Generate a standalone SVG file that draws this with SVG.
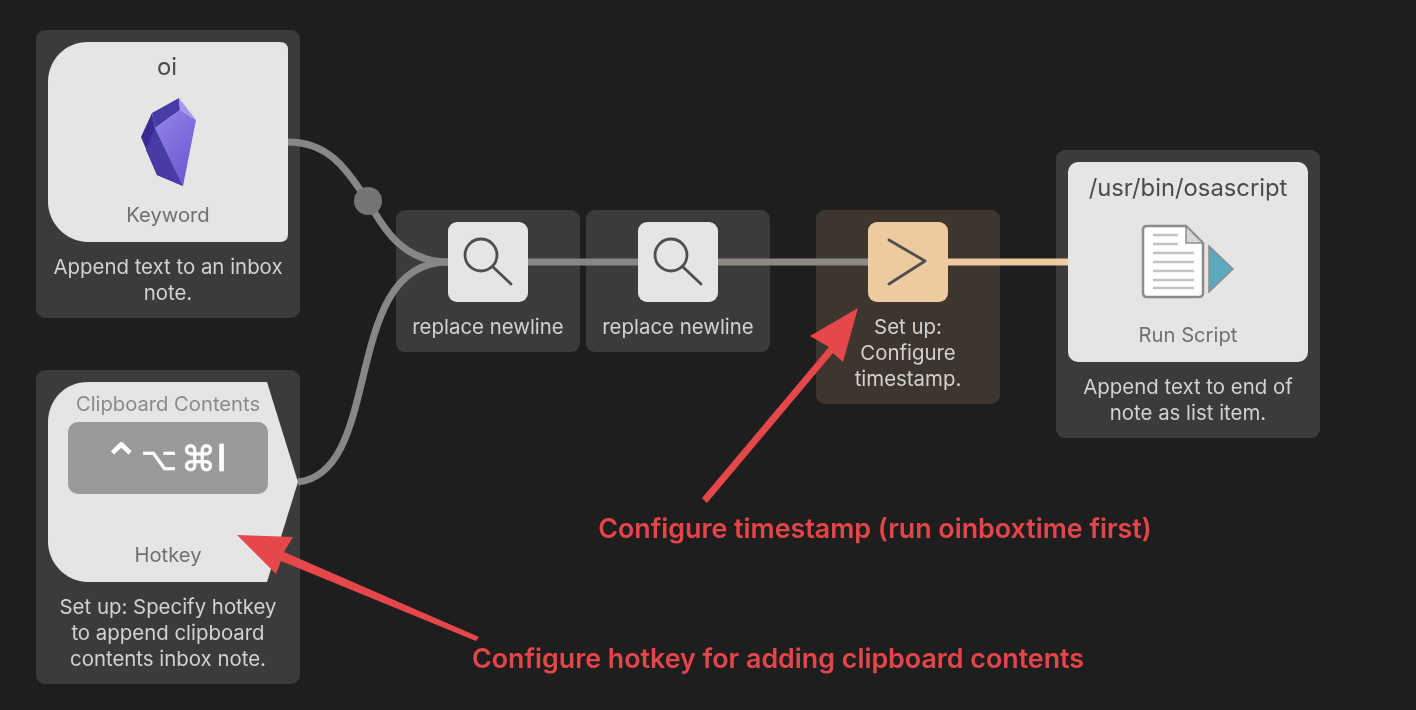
<svg xmlns="http://www.w3.org/2000/svg" width="1416" height="710" viewBox="0 0 1416 710">
<defs>
<linearGradient id="gem" x1="0.2" y1="0" x2="0.8" y2="1"><stop offset="0" stop-color="#8f80e6"/><stop offset="1" stop-color="#6a56d2"/></linearGradient>
<filter id="soft" x="0" y="0" width="1" height="1"><feGaussianBlur stdDeviation="0.6"/></filter>
</defs>
<style>
text{font-family:"Inter","Liberation Sans",Arial,sans-serif;text-anchor:middle}
.panel{fill:#3a3a3a}
.card{fill:#e5e5e5}
.cap{font-size:20.4px;fill:#d2d2d2}
.type{font-size:20.2px;fill:#707070}
.title{font-size:23.8px;fill:#4c4c4c}
.wire{fill:none;stroke:#878787;stroke-width:7}
.ann{font-size:26.8px;font-weight:600;fill:#e5444a}
.icon{fill:none;stroke:#4f4f4f;stroke-width:2.8;stroke-linecap:round;stroke-linejoin:round}
.arrow{fill:#e5474b}
.key{fill:#ffffff;stroke:#ffffff;stroke-width:0.7;text-anchor:start;font-family:"DejaVu Sans",sans-serif}
</style>
<rect width="1416" height="710" fill="#1e1e1e"/>
<g filter="url(#soft)">
<g id="panels">
<rect class="panel" x="36" y="30" width="264" height="288" rx="9"/>
<rect class="panel" x="36" y="370" width="264" height="314" rx="9"/>
<rect class="panel" x="396" y="210" width="184" height="142" rx="9"/>
<rect class="panel" x="586" y="210" width="184" height="142" rx="9"/>
<rect x="816" y="210" width="184" height="194" rx="9" fill="#3c352e"/>
<rect class="panel" x="1056" y="150" width="264" height="288" rx="9"/>
</g>
<g id="connectors">
<path class="wire" d="M288 142C335 142 352 180 368 201C385 232 405 262 448 262"/>
<path class="wire" d="M298 482C385 472 340 262 448 262"/>
<circle cx="368" cy="201" r="14" fill="#757575"/>
<path class="wire" d="M528 262H638"/>
<path d="M718 262H868" fill="none" stroke="#8c8882" stroke-width="7"/>
<path d="M948 262H1068" fill="none" stroke="#eecaa0" stroke-width="7"/>
</g>
<g id="node-keyword">
<path class="card" d="M88 42H280Q288 42 288 50V234Q288 242 280 242H88C65 242 48 222 48 202V82C48 60 65 42 88 42Z"/>
<text class="title" x="167" y="75">oi</text>
<path fill="#3a2b94" d="M141 137L152 113L155 128L183 186L157 175Z"/>
<path fill="#4a3ba6" d="M152 113L179 98L180 110L155 128ZM155 128L183 186L157 175L146 150Z"/>
<path fill="url(#gem)" d="M155 128L180 110L196 120L183 186Z"/>
<path fill="#a497ef" d="M179 98L196 120L180 110Z"/>
<text class="type" x="168" y="222">Keyword</text>
<text class="cap" x="168" y="274">Append text to an inbox</text>
<text class="cap" x="168" y="300">note.</text>
</g>
<g id="node-hotkey">
<path class="card" d="M88 382H267L298 482L267 582H88C65 582 48 562 48 542V422C48 400 65 382 88 382Z"/>
<text x="168" y="411" style="font-size:20.2px;fill:#8a8a8a">Clipboard Contents</text>
<rect x="68" y="422" width="200" height="72" rx="10" fill="#9a9a9a"/>
<text class="key" x="102" y="476" font-size="46">⌃</text>
<text class="key" x="141" y="470" font-size="31">⌥</text>
<text class="key" x="181" y="471" font-size="35">⌘</text>
<text class="key" x="216" y="471" font-size="38">I</text>
<text class="type" x="168" y="562">Hotkey</text>
<text class="cap" x="168" y="614">Set up: Specify hotkey</text>
<text class="cap" x="168" y="640">to append clipboard</text>
<text class="cap" x="168" y="666">contents inbox note.</text>
</g>
<g id="node-replace-1">
<rect class="card" x="448" y="222" width="80" height="80" rx="9"/>
<circle class="icon" cx="481" cy="255" r="16"/>
<path class="icon" d="M493 267L511 284"/>
<text class="cap" x="488" y="334">replace newline</text>
</g>
<g id="node-replace-2">
<rect class="card" x="638" y="222" width="80" height="80" rx="9"/>
<circle class="icon" cx="671" cy="255" r="16"/>
<path class="icon" d="M683 267L701 284"/>
<text class="cap" x="678" y="334">replace newline</text>
</g>
<g id="node-timestamp">
<rect x="868" y="222" width="80" height="80" rx="9" fill="#eecaa0"/>
<path class="icon" d="M889 240L925 261L889 284"/>
<text class="cap" x="908" y="334">Set up:</text>
<text class="cap" x="908" y="360">Configure</text>
<text class="cap" x="908" y="386">timestamp.</text>
</g>
<g id="node-script">
<rect class="card" x="1068" y="162" width="240" height="200" rx="10"/>
<text class="title" x="1188" y="196">/usr/bin/osascript</text>
<path d="M1147 226H1186L1203 243V293Q1203 297 1199 297H1147Q1143 297 1143 293V230Q1143 226 1147 226Z" fill="#ffffff" stroke="#8c8c8c" stroke-width="2.5"/>
<path d="M1186 226V243H1203Z" fill="#d6d6d6" stroke="#8c8c8c" stroke-width="1.5"/>
<path d="M1153 235H1178M1153 244H1178M1153 253H1194M1153 262H1194M1153 271H1194M1153 280H1194M1153 288H1194" stroke="#c4c4c4" stroke-width="2.5" fill="none"/>
<path d="M1209 246L1233 269L1209 292Z" fill="#5aa9bd" stroke="#8c8c8c" stroke-width="1.5"/>
<text class="type" x="1188" y="342">Run Script</text>
<text class="cap" x="1188" y="394">Append text to end of</text>
<text class="cap" x="1188" y="420">note as list item.</text>
</g>
<g id="annotations">
<path class="arrow" d="M858 308L843 362L833 353L707 503L702 498L829 347L810 336Z"/>
<text class="ann" x="875" y="538">Configure timestamp (run oinboxtime first)</text>
<path class="arrow" d="M237 535L293 537L284 552L479 637L476 641L281 561L276 574Z"/>
<text class="ann" x="778" y="668">Configure hotkey for adding clipboard contents</text>
</g>
</g>
</svg>
